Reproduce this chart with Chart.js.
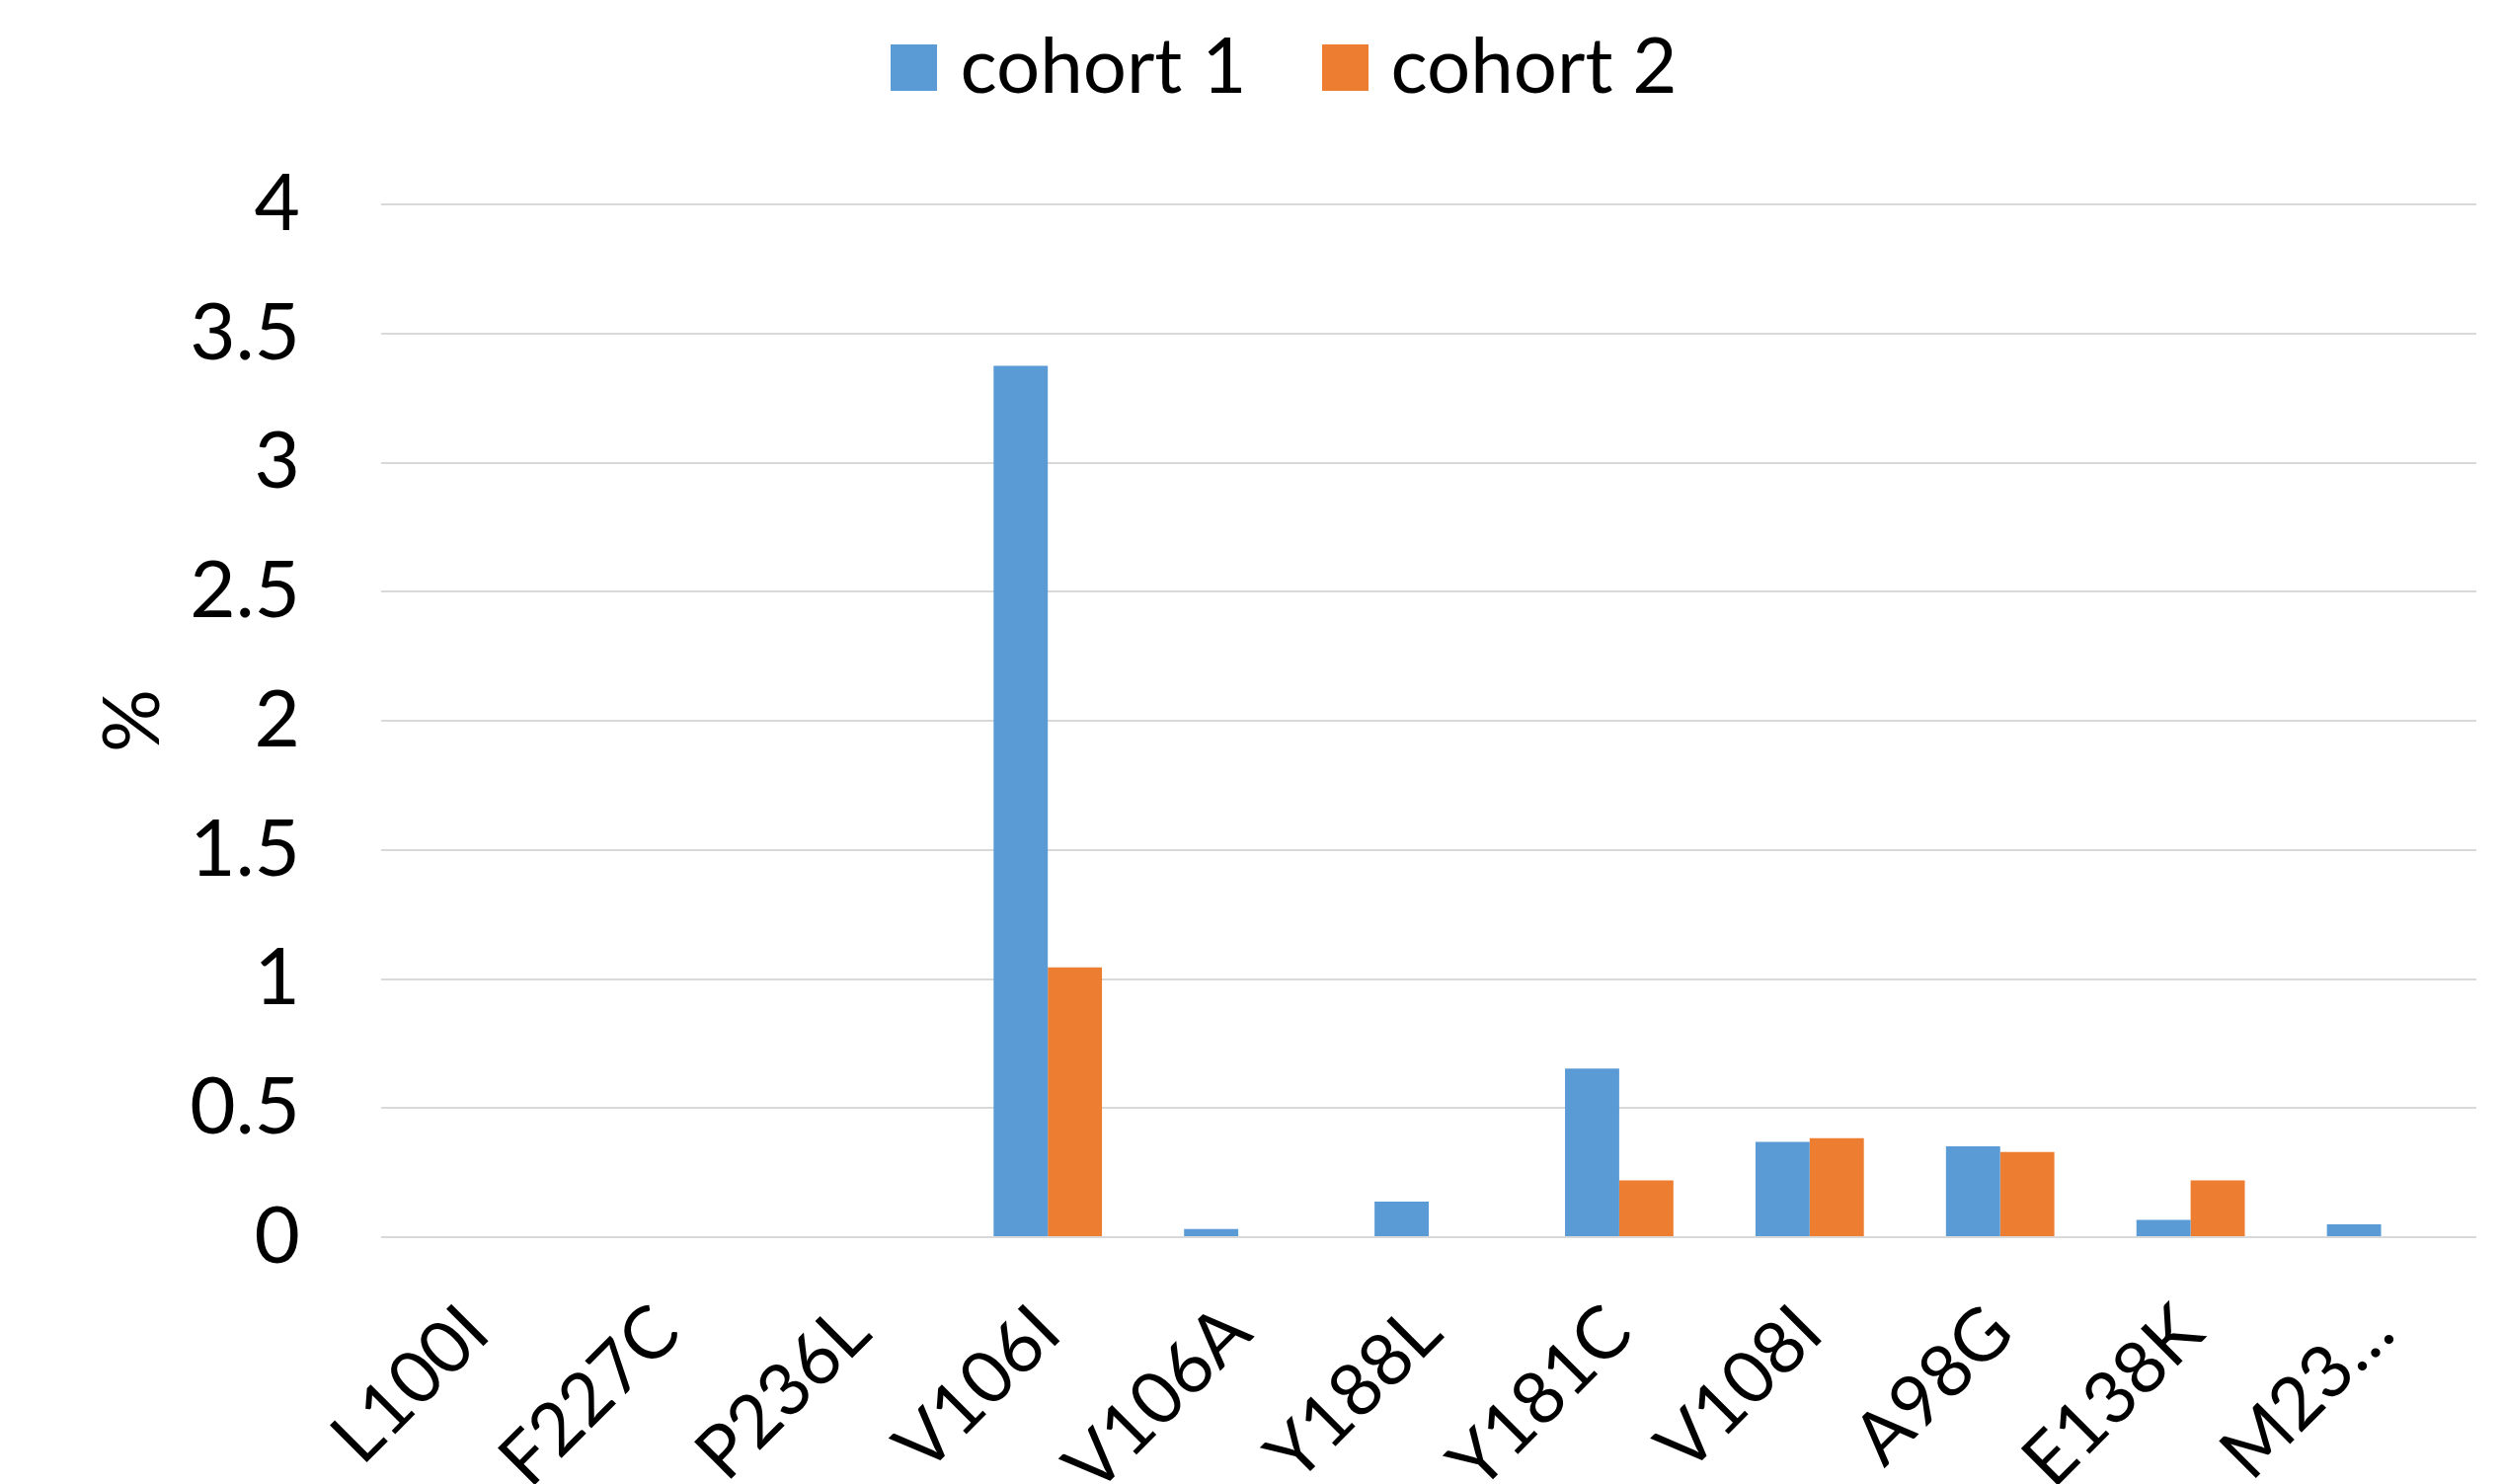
<!DOCTYPE html>
<html><head><meta charset="utf-8">
<script src="https://cdn.jsdelivr.net/npm/chart.js@4.4.1/dist/chart.umd.min.js"></script>
<style>html,body{margin:0;padding:0;background:#fff;overflow:hidden}
#wrap{position:absolute;left:0;top:0;width:2535px;height:1503px}
canvas{display:block}
</style></head><body>
<div id="wrap"><canvas id="c" width="2535" height="1503" style="width:2535px;height:1503px"></canvas></div>
<script>
const categories = ["L100I","F227C","P236L","V106I","V106A","Y188L","Y181C","V108I","A98G","E138K","M23…"];
const cohort1 = [0, 0, 0, 3.375, 0.032, 0.138, 0.653, 0.369, 0.352, 0.067, 0.05];
const cohort2 = [0, 0, 0, 1.045, 0, 0, 0.22, 0.383, 0.33, 0.22, 0];
const seriesNames = ["cohort 1", "cohort 2"];
const seriesColors = ["#5B9BD5", "#ED7D31"];
const yMin = 0, yMax = 4, yStep = 0.5;
const yTitle = "%";

const FONT = "Lato";
const FS = 80;
const XFS = 74;
const LFS = 78;
const LEG_PAD = 92;

function boxCanvas(color) {
  const c = document.createElement('canvas');
  c.width = 47; c.height = 47;
  const g = c.getContext('2d');
  g.fillStyle = color; g.fillRect(0, 0, 47, 47);
  return c;
}
const legendBoxes = seriesColors.map(boxCanvas);

const legendTweak = {
  id: 'legendTweak',
  beforeInit(chart) {
    const lg = chart.legend;
    const origFit = lg.fit;
    lg.fit = function () { origFit.call(this); this.height = 207; };
    const origDraw = lg.draw;
    lg.draw = function () {
      const ctx = this.ctx;
      ctx.save();
      ctx.translate(21, 68.5 - LFS / 2 - LEG_PAD);
      origDraw.apply(this, arguments);
      ctx.restore();
    };
  }
};

function draw() {
  Chart.defaults.color = '#000';
  Chart.defaults.font.family = FONT;
  new Chart(document.getElementById('c'), {
    type: 'bar',
    data: {
      labels: categories,
      datasets: [
        { label: seriesNames[0], data: cohort1, backgroundColor: seriesColors[0], borderWidth: 0 },
        { label: seriesNames[1], data: cohort2, backgroundColor: seriesColors[1], borderWidth: 0 }
      ]
    },
    plugins: [legendTweak],
    options: {
      responsive: false,
      devicePixelRatio: 1,
      animation: false,
      datasets: { bar: { barPercentage: 1.0, categoryPercentage: 0.569 } },
      layout: { padding: { top: 0, left: 67, right: 27, bottom: 0 } },
      plugins: {
        legend: {
          position: 'top',
          align: 'center',
          labels: {
            usePointStyle: true, pointStyleWidth: 15, boxHeight: 47,
            padding: LEG_PAD, font: { size: LFS, family: FONT }, color: '#000',
            generateLabels(chart) {
              const items = Chart.defaults.plugins.legend.labels.generateLabels(chart);
              items.forEach((it, i) => { it.pointStyle = legendBoxes[i]; it.lineWidth = 0; });
              return items;
            }
          }
        },
        tooltip: { enabled: false },
        title: { display: false }
      },
      scales: {
        x: {
          grid: { display: false },
          border: { display: false },
          ticks: { autoSkip: false, minRotation: 45, maxRotation: 45, padding: 44, labelOffset: 0, font: { size: XFS, family: FONT }, color: '#000' },
          afterFit(scale) { scale.height = 250; }
        },
        y: {
          min: yMin, max: yMax,
          grid: { color: '#d9d9d9', lineWidth: 2, drawTicks: false },
          border: { display: false },
          ticks: { stepSize: yStep, padding: 82, callback: (v) => String(v), font: { size: FS, family: FONT }, color: '#000' },
          title: { display: true, text: yTitle, padding: { top: 20, bottom: 0 }, font: { size: FS, family: FONT }, color: '#000' },
          afterFit(scale) { scale.width = 319; }
        }
      }
    }
  });
}
if (document.fonts && document.fonts.load) {
  document.fonts.load(FS + 'px ' + FONT).then(draw, draw);
} else { draw(); }
</script>
</body></html>
